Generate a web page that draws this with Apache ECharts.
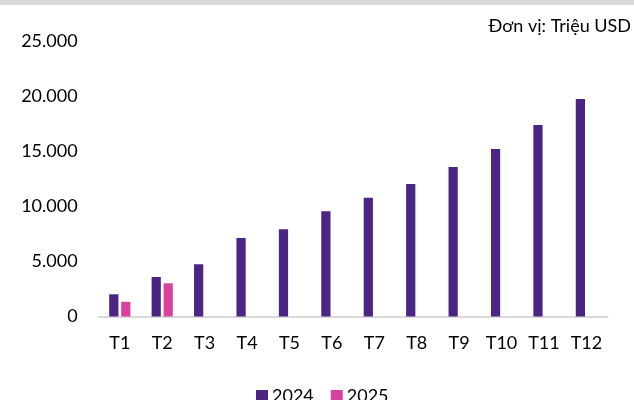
<!DOCTYPE html>
<html>
<head>
<meta charset="utf-8">
<script src="https://cdn.jsdelivr.net/npm/echarts@6/dist/echarts.min.js"></script>
<style>
  html, body { margin: 0; padding: 0; background: #fff; }
  #chart { width: 634px; height: 400px; }
</style>
</head>
<body>
<div id="chart"></div>
<script>
// Monthly values, million USD
const months = ['T1', 'T2', 'T3', 'T4', 'T5', 'T6', 'T7', 'T8', 'T9', 'T10', 'T11', 'T12'];
const values2024 = [2020, 3590, 4750, 7140, 7930, 9560, 10800, 12050, 13590, 15230, 17410, 19770];
const values2025 = [1340, 3020];
const seriesNames = ['2024', '2025'];
const unitLabel = 'Đơn vị: Triệu USD';

const FONT = 'Lato';
const chart = echarts.init(document.getElementById('chart'), null, { renderer: 'canvas' });

chart.setOption({
  animation: false,
  backgroundColor: '#ffffff',
  textStyle: { fontFamily: FONT },
  graphic: [
    { type: 'rect', left: 0, top: 0, shape: { width: 634, height: 5 }, style: { fill: '#d9d9d9' } },
    {
      type: 'text', right: 3, top: 17,
      style: { text: unitLabel, font: '18px ' + FONT, fill: '#000' }
    }
  ],
  legend: {
    data: seriesNames,
    left: 256,
    top: 387,
    padding: 0,
    itemWidth: 12,
    itemHeight: 12,
    itemGap: 17,
    icon: 'rect',
    textStyle: { fontFamily: FONT, fontSize: 18, color: '#000', padding: [0, 0, 0, -1] }
  },
  grid: { left: 98.6, right: 26.4, top: 41.5, bottom: 83.5 },
  xAxis: {
    type: 'category',
    data: months,
    axisLine: { show: true, lineStyle: { color: '#d9d9d9', width: 2 } },
    axisTick: { show: false },
    axisLabel: { color: '#000', fontSize: 18, fontFamily: FONT, margin: 18 }
  },
  yAxis: {
    type: 'value',
    min: 0,
    max: 25000,
    interval: 5000,
    axisLine: { show: false },
    axisTick: { show: false },
    splitLine: { show: false },
    axisLabel: {
      color: '#000', fontSize: 18, fontFamily: FONT, margin: 21,
      formatter: v => v === 0 ? '0' : v.toLocaleString('de-DE')
    }
  },
  series: [
    {
      name: seriesNames[0], type: 'bar', data: values2024,
      itemStyle: { color: '#4b2582' },
      barGap: '30%', barCategoryGap: '50%'
    },
    {
      name: seriesNames[1], type: 'bar', data: values2025,
      itemStyle: { color: '#da409d' },
      barGap: '30%', barCategoryGap: '50%'
    }
  ]
});
</script>
</body>
</html>
